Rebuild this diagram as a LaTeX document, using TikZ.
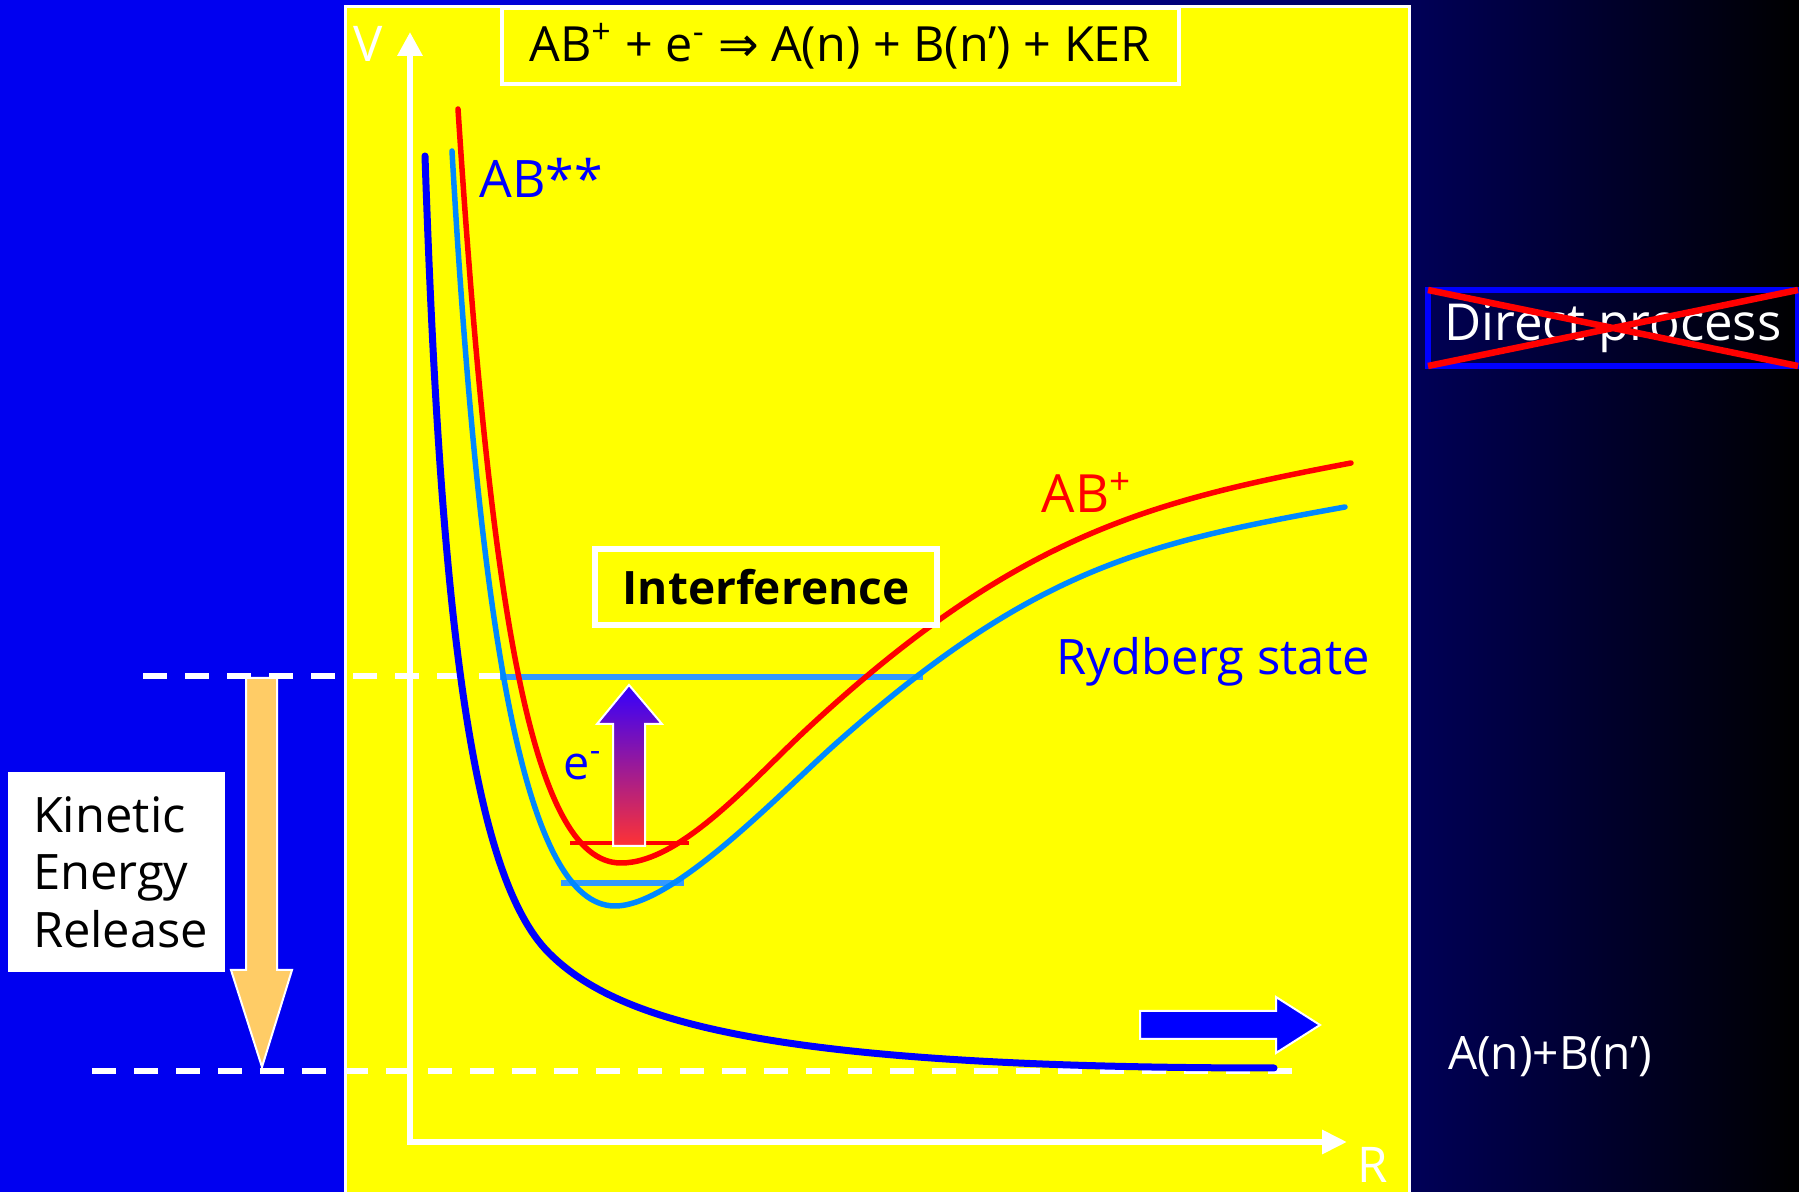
\documentclass[tikz,border=0pt]{standalone}
\usepackage{fontspec}
\setmainfont{Open Sans}
\newfontfamily\arrowfont{DejaVu Sans}
\usetikzlibrary{arrows.meta}
\definecolor{slideblue}{RGB}{0,0,240}
\definecolor{slidenavy}{RGB}{0,0,88}
\definecolor{slideyellow}{RGB}{255,255,0}
\definecolor{rydblue}{RGB}{0,136,255}
\definecolor{levelblue}{RGB}{51,153,255}
\definecolor{kerorange}{RGB}{255,204,102}
\definecolor{gradtop}{RGB}{51,0,255}
\definecolor{gradbot}{RGB}{255,51,51}

\begin{document}
\begin{tikzpicture}[x={(0.1mm,0)},y={(0,-0.1mm)},
  every node/.style={inner sep=0pt, outer sep=0pt},
  framebox/.style={draw=white, fill=slideyellow},
  dashedlevel/.style={white, line width=0.6mm, dash pattern=on 2.4mm off 1.8mm},
  blockarrow/.style={draw=white, line width=0.2mm, line join=miter},
  curve/.style={line width=0.55mm, line join=round, line cap=round},
  axislabel/.style={text=white, anchor=base, font=\fontsize{14pt}{16pt}\selectfont}]

\useasboundingbox (0,0) rectangle (1799,1192);
\clip (0,0) rectangle (1799,1192);

% background of the slide
\fill[slideblue] (0,0) rectangle (345,1192);
\shade[left color=slideblue, right color=slidenavy] (345,0) rectangle (1409,1192);
\shade[left color=slidenavy, right color=black] (1409,0) rectangle (1799,1192);
\filldraw[fill=slideyellow, draw=white, line width=0.3mm] (345,7) rectangle (1409,1210);

% energy levels
\draw[dashedlevel] (143,676) -- (500,676);
\draw[dashedlevel] (92,1071) -- (1300,1071);
\draw[levelblue, line width=0.6mm] (500,677) -- (923,677);
\draw[levelblue, line width=0.6mm] (561,883) -- (684,883);
\draw[red, line width=0.35mm] (570,843) -- (689,843);

% potential curves
\draw[curve, blue, line width=0.7mm] (425,156) .. controls (440,600) and (469,873) .. (549,953) .. controls (619,1023) and (774,1068) .. (1274,1068);
\draw[curve, rydblue] (452,151) .. controls (480,640) and (525,906) .. (615,906) .. controls (675,906) and (785,788) .. (840,740) .. controls (1035,568) and (1145,543) .. (1345,507);
\draw[curve, red] (458,109) .. controls (490,600) and (530,863) .. (621,863) .. controls (681,863) and (752,780) .. (807,729) .. controls (1017,534) and (1151,501) .. (1351,463);

% axes
\coordinate (origin) at (410,1142);
\coordinate (vtop) at (410,32);
\coordinate (rend) at (1347,1142);
\draw[white, line width=0.6mm, line join=miter, {Triangle[length=2.4mm,width=2.4mm]}-{Triangle[length=2.5mm,width=2.3mm]}] (vtop) -- (origin) -- (rend);
\node[axislabel] (vlabel) at (368,62) {V};
\node[axislabel] (rlabel) at (1373,1182) {R};

% block arrows
\filldraw[blockarrow, fill=kerorange] (246,678) -- (277,678) -- (277,970) -- (292,970) -- (262,1067) -- (231,970) -- (246,970) -- cycle;
\shadedraw[blockarrow, top color=gradtop, bottom color=gradbot] (613,846) -- (645,846) -- (645,724) -- (662,724) -- (629,685) -- (597,724) -- (613,724) -- cycle;
\filldraw[blockarrow, fill=blue] (1140,1011) -- (1276,1011) -- (1276,997) -- (1320,1025) -- (1276,1053) -- (1276,1039) -- (1140,1039) -- cycle;

% labels
\node[framebox, line width=0.4mm, minimum width=67.7mm, minimum height=7.6mm, font=\fontsize{13.8pt}{16pt}\selectfont] (reaction) at (840,46) {AB\textsuperscript{+} + e\textsuperscript{-} {\arrowfont ⇒} A(n) + B(n') + KER};
\node[text=blue, anchor=base, font=\fontsize{14.7pt}{17pt}\selectfont] (abstar) at (541,198) {AB**};
\node[text=red, anchor=base, font=\fontsize{15pt}{17pt}\selectfont] (abplus) at (1087,513) {AB\textsuperscript{+}};
\node[text=blue, anchor=base, font=\fontsize{13.3pt}{15pt}\selectfont] (elec) at (583,780) {e\textsuperscript{-}};
\node[text=blue, anchor=base, font=\fontsize{13.9pt}{16pt}\selectfont] (rydberg) at (1213,675) {Rydberg state};
\node[framebox, line width=0.6mm, minimum width=34.2mm, minimum height=7.6mm, font=\bfseries\fontsize{13.1pt}{15pt}\selectfont] (interf) at (766,587) {Interference};
\node[fill=white, minimum width=21.7mm, minimum height=20mm] (ker) at (116,872) {};
\node[anchor=west, align=left, font=\fontsize{13.9pt}{16.4pt}\selectfont] (kertext) at (33,872) {Kinetic\\Energy\\Release};
\node[draw=blue, line width=0.6mm, minimum width=37mm, minimum height=7.6mm, text=white, font=\fontsize{14.5pt}{17pt}\selectfont] (direct) at (1613,328) {Direct process};
\draw[red, line width=0.65mm] (direct.north west) -- (direct.south east) (direct.south west) -- (direct.north east);
\node[text=white, anchor=base, font=\fontsize{13.1pt}{15pt}\selectfont] (products) at (1550,1070) {A(n)+B(n')};
\end{tikzpicture}
\end{document}
